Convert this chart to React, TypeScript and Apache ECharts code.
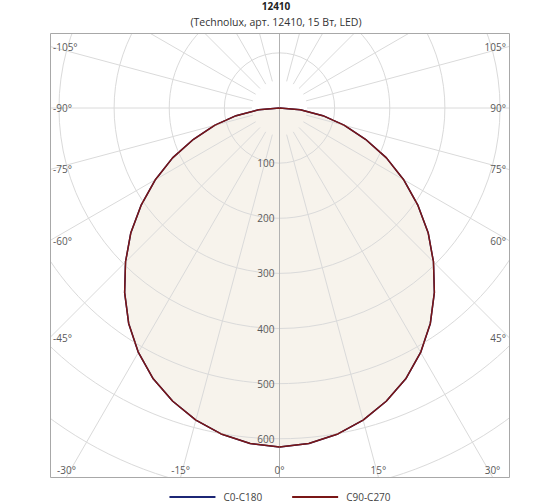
import React, { useEffect, useRef } from "react";
import * as echarts from "echarts";

// ---------- data ----------
const TITLE = "12410";
const SUBTITLE = "(Technolux, арт. 12410, 15 Вт, LED)";
const legendNames = ["C0-C180", "C90-C270"];
// gamma angles (deg from nadir) and luminous intensity (cd)
const gammaAngles = [0, 5, 10, 15, 20, 25, 30, 35, 40, 45, 50, 55, 60, 65, 70, 75, 80, 85, 90];
const c0c180 = [615, 611, 601, 586, 566, 542, 512, 477, 437, 395, 352, 306, 260, 214, 166, 122, 80, 38, 0];
const c90c270 = [615, 611, 601, 586, 566, 542, 512, 477, 437, 395, 352, 306, 260, 214, 166, 122, 80, 38, 0];
const radiusLabelTicks = [100, 200, 300, 400, 500, 600];
const angleLabelTicks = [-105, -90, -75, -60, -45, -30, -15, 0, 15, 30, 45, 60, 75, 90, 105];

// ---------- layout / style ----------
const FONT = "'Open Sans', 'DejaVu Sans', sans-serif";
const FRAME = { l: 50, t: 33, r: 509, b: 477 };
const CX = 279.5;
const CY = 108;
const PX_PER_100 = 55.13;
const R_MAX = 800;
const R_RAY_START = 50;
const NAVY = "#1c2675";
const RED = "#7a1616";
const FILL = "#f7f3ec";
const GRID = "#dadada";
const AXIS_DARK = "#b2b2b2";
const LABEL = "#5a5a5a";

function planePoints(vals: number[]) {
  const pts: number[][] = [];
  for (let i = gammaAngles.length - 1; i >= 0; i--) {
    pts.push([vals[i], (360 - gammaAngles[i]) % 360]);
  }
  for (let i = 1; i < gammaAngles.length; i++) {
    pts.push([vals[i], gammaAngles[i]]);
  }
  return pts;
}

function frameLabel(a: number) {
  const rad = (a * Math.PI) / 180;
  const dx = Math.sin(rad);
  const dy = Math.cos(rad);
  let t = Infinity;
  let side = "";
  if (dx < -1e-9) { const tt = (FRAME.l - CX) / dx; if (tt < t) { t = tt; side = "l"; } }
  if (dx > 1e-9) { const tt = (FRAME.r - CX) / dx; if (tt < t) { t = tt; side = "r"; } }
  if (dy > 1e-9) { const tt = (FRAME.b - CY) / dy; if (tt < t) { t = tt; side = "b"; } }
  if (dy < -1e-9) { const tt = (FRAME.t - CY) / dy; if (tt < t) { t = tt; side = "t"; } }
  const x = CX + dx * t;
  const y = CY + dy * t;
  let px = x, py = y, align = "center";
  if (side === "l") { px = FRAME.l + 3; align = "left"; }
  else if (side === "r") { px = FRAME.r - 3; align = "right"; }
  else if (side === "b") { py = FRAME.b - 7; }
  else { py = FRAME.t + 7; }
  return {
    type: "text",
    x: px,
    y: py,
    z: 12,
    style: {
      text: `${a}°`,
      fontSize: 10,
      fontFamily: FONT,
      fill: LABEL,
      align,
      verticalAlign: "middle",
    },
  };
}

export default function App() {
  const ref = useRef<HTMLDivElement>(null);

  useEffect(() => {
    if (!ref.current) return;
    const chart = echarts.init(ref.current, undefined, { renderer: "svg" });
    const outerR = (R_MAX / 100) * PX_PER_100;
    const innerR = (R_RAY_START / 100) * PX_PER_100;
    const rayColors = [AXIS_DARK];
    for (let i = 0; i < 11; i++) rayColors.push(GRID);

    const covers = [
      { type: "rect", z: 10, shape: { x: 0, y: 0, width: 560, height: FRAME.t }, style: { fill: "#fff" } },
      { type: "rect", z: 10, shape: { x: 0, y: FRAME.b, width: 560, height: 504 - FRAME.b }, style: { fill: "#fff" } },
      { type: "rect", z: 10, shape: { x: 0, y: 0, width: FRAME.l, height: 504 }, style: { fill: "#fff" } },
      { type: "rect", z: 10, shape: { x: FRAME.r, y: 0, width: 560 - FRAME.r, height: 504 }, style: { fill: "#fff" } },
      {
        type: "rect", z: 11,
        shape: { x: FRAME.l + 0.5, y: FRAME.t + 0.5, width: FRAME.r - FRAME.l, height: FRAME.b - FRAME.t },
        style: { fill: "none", stroke: "#a8a8a8", lineWidth: 1 },
      },
    ];

    chart.setOption({
      animation: false,
      backgroundColor: "#fff",
      title: {
        text: TITLE,
        subtext: SUBTITLE,
        left: 276,
        top: 1,
        textAlign: "center",
        padding: 0,
        itemGap: 5,
        z: 12,
        textStyle: { fontSize: 10, lineHeight: 10, fontWeight: "bold", color: "#222", fontFamily: FONT },
        subtextStyle: { fontSize: 10.5, lineHeight: 12, color: "#333", fontFamily: FONT },
      },
      legend: {
        data: [
          { name: legendNames[0], itemStyle: { color: NAVY } },
          { name: legendNames[1], itemStyle: { color: RED } },
        ],
        left: "center",
        top: 492,
        padding: 0,
        icon: "rect",
        itemWidth: 46,
        itemHeight: 2,
        itemGap: 30,
        z: 12,
        textStyle: { fontSize: 10, color: "#444", fontFamily: FONT, padding: [0, 0, 0, 3] },
      },
      polar: [
        { center: [CX, CY], radius: [innerR, outerR] },
        { center: [CX, CY], radius: [0, outerR] },
      ],
      angleAxis: [
        {
          polarIndex: 0,
          type: "value",
          min: 0,
          max: 360,
          interval: 15,
          startAngle: -90,
          clockwise: false,
          z: 1,
          axisLine: { show: false },
          axisTick: { show: false },
          axisLabel: { show: false },
          splitLine: { show: true, lineStyle: { color: rayColors, width: 1 } },
        },
        {
          polarIndex: 1,
          type: "value",
          min: 0,
          max: 360,
          interval: 180,
          startAngle: -90,
          clockwise: false,
          z: 1,
          axisLine: { show: false },
          axisTick: { show: false },
          axisLabel: { show: false },
          splitLine: { show: true, lineStyle: { color: AXIS_DARK, width: 1 } },
        },
      ],
      radiusAxis: [
        {
          polarIndex: 0,
          type: "value",
          min: R_RAY_START,
          max: R_MAX,
          z: 1,
          axisLine: { show: false },
          axisTick: { show: false },
          axisLabel: { show: false },
          splitLine: { show: false },
        },
        {
          polarIndex: 1,
          type: "value",
          min: 0,
          max: R_MAX,
          interval: 100,
          z: 1,
          axisLine: { show: false },
          axisTick: { show: false },
          splitLine: { show: true, lineStyle: { color: GRID, width: 1 } },
          axisLabel: {
            show: true,
            margin: -5,
            align: "right",
            verticalAlign: "middle",
            fontSize: 10,
            color: LABEL,
            fontFamily: FONT,
            formatter: (v: number) => (radiusLabelTicks.indexOf(v) >= 0 ? String(v) : ""),
          },
        },
      ],
      series: [
        {
          name: legendNames[0],
          type: "line",
          coordinateSystem: "polar",
          polarIndex: 1,
          data: planePoints(c0c180),
          symbol: "none",
          z: 0,
          color: NAVY,
          lineStyle: { color: NAVY, width: 1.5 },
          areaStyle: { color: FILL, opacity: 1 },
        },
        {
          name: legendNames[1],
          type: "line",
          coordinateSystem: "polar",
          polarIndex: 1,
          data: planePoints(c90c270),
          symbol: "none",
          z: 3,
          color: RED,
          lineStyle: { color: RED, width: 1.5 },
        },
      ],
      graphic: [...covers, ...angleLabelTicks.map(frameLabel)],
    });
    return () => chart.dispose();
  }, []);

  return (
    <div
      ref={ref}
      style={{ position: "fixed", left: 0, top: 0, width: 560, height: 504, background: "#fff" }}
    />
  );
}
